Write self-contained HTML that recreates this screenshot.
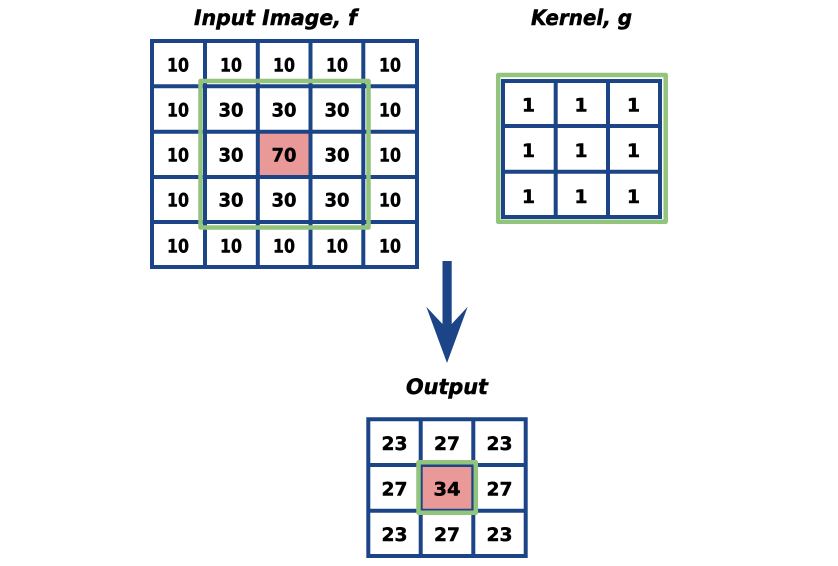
<!DOCTYPE html>
<html><head><meta charset="utf-8"><style>
html,body{margin:0;padding:0;background:#fff}
svg{display:block}
text{font-family:"DejaVu Sans",sans-serif;font-weight:700;fill:#000}
.n{font-size:19px;text-anchor:middle;stroke:#000;stroke-width:.45px}
.t{font-size:21px;font-style:italic;stroke:#000;stroke-width:.5px}
.b{stroke:#1c4587;stroke-width:4;fill:none}
.g{stroke:#93c47d;stroke-width:4.5;fill:none;stroke-linejoin:round}
</style></head><body>
<svg width="838" height="566" viewBox="0 0 838 566" xmlns="http://www.w3.org/2000/svg">
<rect width="838" height="566" fill="#fff"/>
<text class="t" x="194" y="25" textLength="163" lengthAdjust="spacingAndGlyphs">Input Image, f</text>
<text class="t" x="531" y="25" textLength="101" lengthAdjust="spacingAndGlyphs">Kernel, g</text>
<text class="t" x="406" y="394" textLength="82" lengthAdjust="spacingAndGlyphs">Output</text>

<rect x="258" y="132" width="52" height="45" fill="#ea9999"/>
<path class="b" d="M150 41H419M150 86.3H419M150 131.7H419M150 177H419M150 222H419M150 267H419M152 39V269M205 39V269M257.8 39V269M310.5 39V269M363.3 39V269M417 39V269"/>
<rect class="g" x="200.5" y="81" width="168" height="146.5"/>
<text class="n" x="178" y="71.5" textLength="22" lengthAdjust="spacingAndGlyphs">10</text><text class="n" x="231" y="71.5" textLength="22" lengthAdjust="spacingAndGlyphs">10</text><text class="n" x="284" y="71.5" textLength="22" lengthAdjust="spacingAndGlyphs">10</text><text class="n" x="337" y="71.5" textLength="22" lengthAdjust="spacingAndGlyphs">10</text><text class="n" x="390" y="71.5" textLength="22" lengthAdjust="spacingAndGlyphs">10</text>
<text class="n" x="178" y="116.7" textLength="22" lengthAdjust="spacingAndGlyphs">10</text><text class="n" x="231" y="116.7" textLength="25" lengthAdjust="spacingAndGlyphs">30</text><text class="n" x="284" y="116.7" textLength="25" lengthAdjust="spacingAndGlyphs">30</text><text class="n" x="337" y="116.7" textLength="25" lengthAdjust="spacingAndGlyphs">30</text><text class="n" x="390" y="116.7" textLength="22" lengthAdjust="spacingAndGlyphs">10</text>
<text class="n" x="178" y="161.7" textLength="22" lengthAdjust="spacingAndGlyphs">10</text><text class="n" x="231" y="161.7" textLength="25" lengthAdjust="spacingAndGlyphs">30</text><text class="n" x="284" y="161.7" textLength="25" lengthAdjust="spacingAndGlyphs">70</text><text class="n" x="337" y="161.7" textLength="25" lengthAdjust="spacingAndGlyphs">30</text><text class="n" x="390" y="161.7" textLength="22" lengthAdjust="spacingAndGlyphs">10</text>
<text class="n" x="178" y="206.7" textLength="22" lengthAdjust="spacingAndGlyphs">10</text><text class="n" x="231" y="206.7" textLength="25" lengthAdjust="spacingAndGlyphs">30</text><text class="n" x="284" y="206.7" textLength="25" lengthAdjust="spacingAndGlyphs">30</text><text class="n" x="337" y="206.7" textLength="25" lengthAdjust="spacingAndGlyphs">30</text><text class="n" x="390" y="206.7" textLength="22" lengthAdjust="spacingAndGlyphs">10</text>
<text class="n" x="178" y="252.3" textLength="22" lengthAdjust="spacingAndGlyphs">10</text><text class="n" x="231" y="252.3" textLength="22" lengthAdjust="spacingAndGlyphs">10</text><text class="n" x="284" y="252.3" textLength="22" lengthAdjust="spacingAndGlyphs">10</text><text class="n" x="337" y="252.3" textLength="22" lengthAdjust="spacingAndGlyphs">10</text><text class="n" x="390" y="252.3" textLength="22" lengthAdjust="spacingAndGlyphs">10</text>

<rect class="g" x="498.2" y="75" width="167.5" height="146.8"/>
<path class="b" d="M501 81H662M501 126H662M501 171.7H662M501 217H662M503 79V219M555.7 79V219M608 79V219M660 79V219"/>
<text class="n" x="528.5" y="111.7">1</text><text class="n" x="581" y="111.7">1</text><text class="n" x="633.5" y="111.7">1</text>
<text class="n" x="528.5" y="157">1</text><text class="n" x="581" y="157">1</text><text class="n" x="633.5" y="157">1</text>
<text class="n" x="528.5" y="203">1</text><text class="n" x="581" y="203">1</text><text class="n" x="633.5" y="203">1</text>

<path fill="#1c4587" d="M442.5 261H451.7V324L467.7 306.7L447 363L426.3 306.7L442.5 324Z"/>

<rect x="420.7" y="465" width="52.6" height="45.7" fill="#ea9999"/>
<path class="b" d="M366.3 419.3H527.7M366.3 465H527.7M366.3 510.7H527.7M366.3 556H527.7M368.3 417.3V558M420.7 417.3V558M473.3 417.3V558M525.7 417.3V558"/>
<rect class="g" x="418.5" y="462.3" width="57.3" height="50.5"/>
<text class="n" x="394.5" y="450" textLength="26" lengthAdjust="spacingAndGlyphs">23</text><text class="n" x="447" y="450" textLength="26" lengthAdjust="spacingAndGlyphs">27</text><text class="n" x="499.5" y="450" textLength="26" lengthAdjust="spacingAndGlyphs">23</text>
<text class="n" x="394.5" y="495.7" textLength="26" lengthAdjust="spacingAndGlyphs">27</text><text class="n" x="447" y="495.7" textLength="27" lengthAdjust="spacingAndGlyphs">34</text><text class="n" x="499.5" y="495.7" textLength="26" lengthAdjust="spacingAndGlyphs">27</text>
<text class="n" x="394.5" y="541" textLength="26" lengthAdjust="spacingAndGlyphs">23</text><text class="n" x="447" y="541" textLength="26" lengthAdjust="spacingAndGlyphs">27</text><text class="n" x="499.5" y="541" textLength="26" lengthAdjust="spacingAndGlyphs">23</text>
</svg>
</body></html>
